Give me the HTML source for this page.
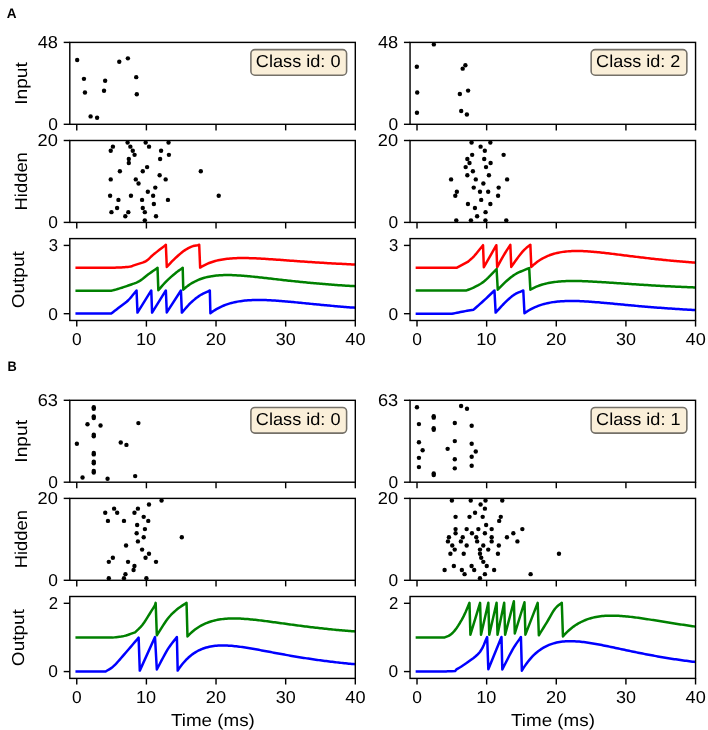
<!DOCTYPE html>
<html><head><meta charset="utf-8"><style>
html,body{margin:0;padding:0;background:#fff;width:708px;height:730px;overflow:hidden;position:relative}
</style></head><body>
<svg width="708" height="730" viewBox="0 0 708 730" style="position:absolute;left:0;top:0;will-change:transform;text-rendering:geometricPrecision;font-family:'Liberation Sans',sans-serif">
<rect x="0" y="0" width="708" height="730" fill="#fff"/>
<line x1="76.76" y1="124.30" x2="76.76" y2="130.40" stroke="#000" stroke-width="1.42"/>
<line x1="146.40" y1="124.30" x2="146.40" y2="130.40" stroke="#000" stroke-width="1.42"/>
<line x1="216.03" y1="124.30" x2="216.03" y2="130.40" stroke="#000" stroke-width="1.42"/>
<line x1="285.67" y1="124.30" x2="285.67" y2="130.40" stroke="#000" stroke-width="1.42"/>
<line x1="355.30" y1="124.30" x2="355.30" y2="130.40" stroke="#000" stroke-width="1.42"/>
<line x1="63.70" y1="124.30" x2="69.80" y2="124.30" stroke="#000" stroke-width="1.42"/>
<line x1="63.70" y1="42.40" x2="69.80" y2="42.40" stroke="#000" stroke-width="1.42"/>
<g><circle cx="77.18" cy="60.06" r="2.2"/><circle cx="83.96" cy="78.84" r="2.2"/><circle cx="84.95" cy="92.54" r="2.2"/><circle cx="90.60" cy="116.41" r="2.2"/><circle cx="97.10" cy="117.82" r="2.2"/><circle cx="105.15" cy="80.68" r="2.2"/><circle cx="104.02" cy="90.71" r="2.2"/><circle cx="119.27" cy="61.75" r="2.2"/><circle cx="127.89" cy="58.36" r="2.2"/><circle cx="136.22" cy="77.15" r="2.2"/><circle cx="136.79" cy="94.24" r="2.2"/></g>
<rect x="250.90" y="49.60" width="95.70" height="25.60" rx="4" ry="4" fill="#faefd9" stroke="#747068" stroke-width="1.55"/>
<text x="255.88" y="67.00" font-size="17.30" font-weight="normal" textLength="84.62" lengthAdjust="spacingAndGlyphs" fill="#000">Class id: 0</text>
<rect x="69.80" y="42.40" width="285.50" height="81.90" fill="none" stroke="#000" stroke-width="1.42" stroke-linejoin="miter"/>
<text x="48.21" y="130.20" font-size="17.30" font-weight="normal" textLength="9.67" lengthAdjust="spacingAndGlyphs" fill="#000">0</text>
<text x="37.72" y="48.30" font-size="17.30" font-weight="normal" textLength="20.27" lengthAdjust="spacingAndGlyphs" fill="#000">48</text>
<line x1="76.76" y1="222.40" x2="76.76" y2="228.50" stroke="#000" stroke-width="1.42"/>
<line x1="146.40" y1="222.40" x2="146.40" y2="228.50" stroke="#000" stroke-width="1.42"/>
<line x1="216.03" y1="222.40" x2="216.03" y2="228.50" stroke="#000" stroke-width="1.42"/>
<line x1="285.67" y1="222.40" x2="285.67" y2="228.50" stroke="#000" stroke-width="1.42"/>
<line x1="355.30" y1="222.40" x2="355.30" y2="228.50" stroke="#000" stroke-width="1.42"/>
<line x1="63.70" y1="222.40" x2="69.80" y2="222.40" stroke="#000" stroke-width="1.42"/>
<line x1="63.70" y1="140.50" x2="69.80" y2="140.50" stroke="#000" stroke-width="1.42"/>
<g><circle cx="127.59" cy="142.55" r="2.2"/><circle cx="145.66" cy="142.55" r="2.2"/><circle cx="168.55" cy="142.55" r="2.2"/><circle cx="112.89" cy="146.64" r="2.2"/><circle cx="130.36" cy="146.64" r="2.2"/><circle cx="149.04" cy="146.64" r="2.2"/><circle cx="110.72" cy="150.74" r="2.2"/><circle cx="132.77" cy="150.74" r="2.2"/><circle cx="161.08" cy="150.74" r="2.2"/><circle cx="134.58" cy="154.83" r="2.2"/><circle cx="168.92" cy="154.83" r="2.2"/><circle cx="128.80" cy="158.93" r="2.2"/><circle cx="160.12" cy="158.93" r="2.2"/><circle cx="128.80" cy="163.02" r="2.2"/><circle cx="147.11" cy="167.12" r="2.2"/><circle cx="119.88" cy="171.21" r="2.2"/><circle cx="142.77" cy="171.21" r="2.2"/><circle cx="159.64" cy="175.31" r="2.2"/><circle cx="110.72" cy="179.40" r="2.2"/><circle cx="135.78" cy="179.40" r="2.2"/><circle cx="165.66" cy="179.40" r="2.2"/><circle cx="138.55" cy="183.50" r="2.2"/><circle cx="155.30" cy="187.59" r="2.2"/><circle cx="147.83" cy="191.69" r="2.2"/><circle cx="110.12" cy="195.78" r="2.2"/><circle cx="130.96" cy="195.78" r="2.2"/><circle cx="153.13" cy="195.78" r="2.2"/><circle cx="118.43" cy="199.88" r="2.2"/><circle cx="142.05" cy="199.88" r="2.2"/><circle cx="167.95" cy="199.88" r="2.2"/><circle cx="153.86" cy="203.97" r="2.2"/><circle cx="117.11" cy="208.07" r="2.2"/><circle cx="142.77" cy="208.07" r="2.2"/><circle cx="111.45" cy="212.16" r="2.2"/><circle cx="128.31" cy="212.16" r="2.2"/><circle cx="144.82" cy="212.16" r="2.2"/><circle cx="125.30" cy="216.26" r="2.2"/><circle cx="156.02" cy="216.26" r="2.2"/><circle cx="144.82" cy="220.35" r="2.2"/><circle cx="200.80" cy="171.21" r="2.2"/><circle cx="218.70" cy="195.78" r="2.2"/></g>
<rect x="69.80" y="140.50" width="285.50" height="81.90" fill="none" stroke="#000" stroke-width="1.42" stroke-linejoin="miter"/>
<text x="48.21" y="228.30" font-size="17.30" font-weight="normal" textLength="9.67" lengthAdjust="spacingAndGlyphs" fill="#000">0</text>
<text x="37.59" y="146.40" font-size="17.30" font-weight="normal" textLength="20.32" lengthAdjust="spacingAndGlyphs" fill="#000">20</text>
<line x1="76.76" y1="320.50" x2="76.76" y2="326.60" stroke="#000" stroke-width="1.42"/>
<line x1="146.40" y1="320.50" x2="146.40" y2="326.60" stroke="#000" stroke-width="1.42"/>
<line x1="216.03" y1="320.50" x2="216.03" y2="326.60" stroke="#000" stroke-width="1.42"/>
<line x1="285.67" y1="320.50" x2="285.67" y2="326.60" stroke="#000" stroke-width="1.42"/>
<line x1="355.30" y1="320.50" x2="355.30" y2="326.60" stroke="#000" stroke-width="1.42"/>
<line x1="63.70" y1="313.68" x2="69.80" y2="313.68" stroke="#000" stroke-width="1.42"/>
<line x1="63.70" y1="245.42" x2="69.80" y2="245.42" stroke="#000" stroke-width="1.42"/>
<clipPath id="cA0"><rect x="69.80" y="238.60" width="285.50" height="81.90"/></clipPath>
<g clip-path="url(#cA0)">
<path d="M76.70,267.80 L111.79,267.83 L113.32,267.75 L114.92,267.67 L116.54,267.60 L118.19,267.53 L119.82,267.46 L121.43,267.39 L122.98,267.31 L124.47,267.22 L125.87,267.12 L127.15,267.01 L128.29,266.89 L130.72,266.46 L132.42,265.95 L133.82,265.41 L135.36,264.88 L136.91,264.36 L138.50,263.88 L140.10,263.39 L141.67,262.90 L143.20,262.37 L144.64,261.78 L145.97,261.11 L147.86,259.81 L149.37,258.38 L150.96,256.75 L153.05,254.86 L154.37,253.79 L155.84,252.62 L157.43,251.38 L159.09,250.09 L160.79,248.76 L162.51,247.43 L164.21,246.12 L165.85,244.84 L166.79,266.89 L168.50,265.08 L170.18,263.29 L171.93,261.47 L173.86,259.58 L175.31,258.21 L176.87,256.76 L178.50,255.29 L180.15,253.85 L181.76,252.51 L183.29,251.32 L185.03,250.11 L186.71,249.04 L188.34,248.11 L189.95,247.31 L191.54,246.61 L193.11,246.07 L194.65,245.69 L196.17,245.41 L197.68,245.15 L199.21,244.84 L200.15,267.59 L201.65,266.68 L203.15,265.83 L204.65,265.04 L206.16,264.32 L207.66,263.65 L209.16,263.03 L210.66,262.47 L212.16,261.95 L213.66,261.48 L215.17,261.05 L216.67,260.66 L218.17,260.30 L219.67,259.98 L221.17,259.69 L222.67,259.43 L224.18,259.20 L225.68,258.99 L227.18,258.81 L228.68,258.65 L230.18,258.52 L231.68,258.40 L233.18,258.30 L234.69,258.22 L236.19,258.15 L237.69,258.10 L239.19,258.07 L240.69,258.05 L242.19,258.04 L243.70,258.04 L245.20,258.05 L246.70,258.07 L248.20,258.10 L249.70,258.13 L251.20,258.18 L252.71,258.23 L254.21,258.29 L255.71,258.36 L257.21,258.43 L258.71,258.50 L260.21,258.58 L261.72,258.66 L263.22,258.75 L264.72,258.84 L266.22,258.93 L267.72,259.03 L269.22,259.13 L270.73,259.23 L272.23,259.33 L273.73,259.44 L275.23,259.54 L276.73,259.65 L278.23,259.76 L279.73,259.87 L281.24,259.98 L282.74,260.08 L284.24,260.19 L285.74,260.30 L287.24,260.42 L288.74,260.53 L290.25,260.64 L291.75,260.75 L293.25,260.85 L294.75,260.96 L296.25,261.07 L297.75,261.18 L299.26,261.29 L300.76,261.39 L302.26,261.50 L303.76,261.60 L305.26,261.71 L306.76,261.81 L308.27,261.91 L309.77,262.01 L311.27,262.11 L312.77,262.21 L314.27,262.31 L315.77,262.41 L317.28,262.50 L318.78,262.60 L320.28,262.69 L321.78,262.78 L323.28,262.87 L324.78,262.96 L326.29,263.05 L327.79,263.14 L329.29,263.22 L330.79,263.31 L332.29,263.39 L333.79,263.48 L335.29,263.56 L336.80,263.64 L338.30,263.72 L339.80,263.79 L341.30,263.87 L342.80,263.95 L344.30,264.02 L345.81,264.09 L347.31,264.17 L348.81,264.24 L350.31,264.31 L351.81,264.38 L353.31,264.44 L354.82,264.51" fill="none" stroke="#ff0000" stroke-width="2.5" stroke-linejoin="round" stroke-linecap="square"/>
<path d="M76.70,290.80 L111.20,290.82 L112.72,290.41 L114.18,290.04 L115.77,289.61 L117.68,289.05 L118.98,288.64 L120.41,288.18 L121.94,287.69 L123.53,287.16 L125.14,286.62 L126.74,286.06 L128.29,285.51 L129.82,284.98 L131.36,284.46 L132.90,283.94 L134.44,283.39 L135.96,282.80 L137.45,282.13 L138.90,281.38 L140.54,280.37 L142.14,279.22 L143.71,278.00 L145.25,276.74 L146.79,275.49 L148.33,274.31 L149.88,273.20 L151.41,272.11 L152.94,271.03 L154.47,269.97 L156.00,268.90 L157.53,267.83 L158.35,290.23 L160.02,288.32 L161.68,286.40 L163.34,284.48 L165.04,282.61 L166.79,280.80 L168.34,279.31 L169.97,277.83 L171.63,276.37 L173.26,274.99 L174.81,273.70 L176.22,272.54 L178.05,271.12 L179.64,269.96 L181.15,268.92 L182.70,267.83 L183.29,289.64 L184.80,288.29 L186.30,287.04 L187.81,285.88 L189.31,284.80 L190.81,283.80 L192.32,282.89 L193.82,282.04 L195.33,281.26 L196.83,280.54 L198.34,279.88 L199.84,279.28 L201.35,278.73 L202.85,278.24 L204.36,277.79 L205.86,277.38 L207.37,277.01 L208.87,276.69 L210.37,276.40 L211.88,276.14 L213.38,275.92 L214.89,275.73 L216.39,275.56 L217.90,275.42 L219.40,275.31 L220.91,275.22 L222.41,275.15 L223.92,275.11 L225.42,275.08 L226.93,275.07 L228.43,275.07 L229.93,275.09 L231.44,275.12 L232.94,275.17 L234.45,275.23 L235.95,275.30 L237.46,275.39 L238.96,275.48 L240.47,275.58 L241.97,275.68 L243.48,275.80 L244.98,275.92 L246.48,276.05 L247.99,276.19 L249.49,276.33 L251.00,276.47 L252.50,276.62 L254.01,276.77 L255.51,276.93 L257.02,277.09 L258.52,277.25 L260.03,277.41 L261.53,277.58 L263.04,277.75 L264.54,277.92 L266.04,278.09 L267.55,278.26 L269.05,278.43 L270.56,278.60 L272.06,278.77 L273.57,278.95 L275.07,279.12 L276.58,279.29 L278.08,279.46 L279.59,279.63 L281.09,279.80 L282.60,279.97 L284.10,280.14 L285.60,280.31 L287.11,280.47 L288.61,280.64 L290.12,280.80 L291.62,280.96 L293.13,281.13 L294.63,281.28 L296.14,281.44 L297.64,281.60 L299.15,281.75 L300.65,281.91 L302.16,282.06 L303.66,282.21 L305.16,282.36 L306.67,282.50 L308.17,282.65 L309.68,282.79 L311.18,282.93 L312.69,283.07 L314.19,283.20 L315.70,283.34 L317.20,283.47 L318.71,283.60 L320.21,283.73 L321.71,283.86 L323.22,283.99 L324.72,284.11 L326.23,284.23 L327.73,284.35 L329.24,284.47 L330.74,284.59 L332.25,284.70 L333.75,284.81 L335.26,284.92 L336.76,285.03 L338.27,285.14 L339.77,285.25 L341.27,285.35 L342.78,285.45 L344.28,285.55 L345.79,285.65 L347.29,285.75 L348.80,285.85 L350.30,285.94 L351.81,286.03 L353.31,286.12 L354.82,286.21" fill="none" stroke="#008000" stroke-width="2.5" stroke-linejoin="round" stroke-linecap="square"/>
<path d="M76.70,313.60 L111.20,313.57 L112.98,312.19 L114.76,310.82 L116.55,309.44 L118.31,308.07 L120.04,306.73 L121.73,305.46 L123.38,304.27 L125.02,303.06 L126.65,301.75 L128.29,300.25 L129.94,298.50 L131.59,296.57 L133.24,294.53 L134.89,292.47 L136.54,290.46 L137.49,312.62 L151.28,290.46 L152.10,312.62 L165.85,290.46 L166.79,312.39 L180.93,290.46 L181.88,312.62 L183.56,310.71 L185.23,308.77 L186.90,306.84 L188.61,304.97 L190.36,303.19 L191.88,301.78 L193.42,300.41 L194.98,299.09 L196.57,297.83 L198.18,296.64 L199.80,295.53 L201.43,294.54 L203.09,293.65 L204.77,292.83 L206.45,292.06 L208.14,291.28 L209.82,290.46 L210.40,313.21 L211.91,312.11 L213.41,311.07 L214.92,310.10 L216.42,309.19 L217.93,308.35 L219.43,307.56 L220.93,306.82 L222.44,306.14 L223.94,305.50 L225.45,304.92 L226.95,304.37 L228.46,303.87 L229.96,303.41 L231.46,302.99 L232.97,302.60 L234.47,302.25 L235.98,301.92 L237.48,301.63 L238.99,301.37 L240.49,301.14 L241.99,300.93 L243.50,300.74 L245.00,300.58 L246.51,300.44 L248.01,300.32 L249.52,300.22 L251.02,300.14 L252.52,300.08 L254.03,300.03 L255.53,300.00 L257.04,299.98 L258.54,299.97 L260.05,299.98 L261.55,300.00 L263.05,300.03 L264.56,300.07 L266.06,300.12 L267.57,300.18 L269.07,300.25 L270.58,300.33 L272.08,300.41 L273.58,300.50 L275.09,300.60 L276.59,300.70 L278.10,300.81 L279.60,300.92 L281.11,301.04 L282.61,301.16 L284.11,301.29 L285.62,301.41 L287.12,301.55 L288.63,301.68 L290.13,301.82 L291.64,301.96 L293.14,302.10 L294.64,302.24 L296.15,302.38 L297.65,302.53 L299.16,302.68 L300.66,302.82 L302.17,302.97 L303.67,303.12 L305.17,303.27 L306.68,303.42 L308.18,303.57 L309.69,303.72 L311.19,303.87 L312.70,304.01 L314.20,304.16 L315.70,304.31 L317.21,304.46 L318.71,304.60 L320.22,304.75 L321.72,304.89 L323.23,305.03 L324.73,305.18 L326.23,305.32 L327.74,305.46 L329.24,305.60 L330.75,305.73 L332.25,305.87 L333.76,306.00 L335.26,306.14 L336.76,306.27 L338.27,306.40 L339.77,306.53 L341.28,306.65 L342.78,306.78 L344.29,306.90 L345.79,307.03 L347.29,307.15 L348.80,307.27 L350.30,307.38 L351.81,307.50 L353.31,307.62 L354.82,307.73" fill="none" stroke="#0000ff" stroke-width="2.5" stroke-linejoin="round" stroke-linecap="square"/>
</g>
<rect x="69.80" y="238.60" width="285.50" height="81.90" fill="none" stroke="#000" stroke-width="1.42" stroke-linejoin="miter"/>
<text x="48.21" y="319.57" font-size="17.30" font-weight="normal" textLength="9.67" lengthAdjust="spacingAndGlyphs" fill="#000">0</text>
<text x="48.64" y="251.32" font-size="17.30" font-weight="normal" textLength="9.29" lengthAdjust="spacingAndGlyphs" fill="#000">3</text>
<text x="71.93" y="345.20" font-size="17.30" font-weight="normal" textLength="9.67" lengthAdjust="spacingAndGlyphs" fill="#000">0</text>
<text x="135.97" y="345.20" font-size="17.30" font-weight="normal" textLength="20.18" lengthAdjust="spacingAndGlyphs" fill="#000">10</text>
<text x="205.77" y="345.20" font-size="17.30" font-weight="normal" textLength="20.32" lengthAdjust="spacingAndGlyphs" fill="#000">20</text>
<text x="275.66" y="345.20" font-size="17.30" font-weight="normal" textLength="20.03" lengthAdjust="spacingAndGlyphs" fill="#000">30</text>
<text x="345.34" y="345.20" font-size="17.30" font-weight="normal" textLength="20.22" lengthAdjust="spacingAndGlyphs" fill="#000">40</text>
<line x1="417.01" y1="124.30" x2="417.01" y2="130.40" stroke="#000" stroke-width="1.42"/>
<line x1="486.65" y1="124.30" x2="486.65" y2="130.40" stroke="#000" stroke-width="1.42"/>
<line x1="556.28" y1="124.30" x2="556.28" y2="130.40" stroke="#000" stroke-width="1.42"/>
<line x1="625.92" y1="124.30" x2="625.92" y2="130.40" stroke="#000" stroke-width="1.42"/>
<line x1="695.55" y1="124.30" x2="695.55" y2="130.40" stroke="#000" stroke-width="1.42"/>
<line x1="403.95" y1="124.30" x2="410.05" y2="124.30" stroke="#000" stroke-width="1.42"/>
<line x1="403.95" y1="42.40" x2="410.05" y2="42.40" stroke="#000" stroke-width="1.42"/>
<g><circle cx="433.84" cy="44.38" r="2.2"/><circle cx="416.83" cy="66.82" r="2.2"/><circle cx="465.40" cy="65.21" r="2.2"/><circle cx="462.69" cy="68.67" r="2.2"/><circle cx="417.20" cy="92.46" r="2.2"/><circle cx="468.11" cy="90.61" r="2.2"/><circle cx="459.85" cy="94.06" r="2.2"/><circle cx="416.96" cy="112.80" r="2.2"/><circle cx="461.21" cy="110.95" r="2.2"/><circle cx="466.88" cy="114.52" r="2.2"/></g>
<rect x="591.15" y="49.60" width="95.70" height="25.60" rx="4" ry="4" fill="#faefd9" stroke="#747068" stroke-width="1.55"/>
<text x="596.13" y="67.00" font-size="17.30" font-weight="normal" textLength="84.26" lengthAdjust="spacingAndGlyphs" fill="#000">Class id: 2</text>
<rect x="410.05" y="42.40" width="285.50" height="81.90" fill="none" stroke="#000" stroke-width="1.42" stroke-linejoin="miter"/>
<text x="388.46" y="130.20" font-size="17.30" font-weight="normal" textLength="9.67" lengthAdjust="spacingAndGlyphs" fill="#000">0</text>
<text x="377.97" y="48.30" font-size="17.30" font-weight="normal" textLength="20.27" lengthAdjust="spacingAndGlyphs" fill="#000">48</text>
<line x1="417.01" y1="222.40" x2="417.01" y2="228.50" stroke="#000" stroke-width="1.42"/>
<line x1="486.65" y1="222.40" x2="486.65" y2="228.50" stroke="#000" stroke-width="1.42"/>
<line x1="556.28" y1="222.40" x2="556.28" y2="228.50" stroke="#000" stroke-width="1.42"/>
<line x1="625.92" y1="222.40" x2="625.92" y2="228.50" stroke="#000" stroke-width="1.42"/>
<line x1="695.55" y1="222.40" x2="695.55" y2="228.50" stroke="#000" stroke-width="1.42"/>
<line x1="403.95" y1="222.40" x2="410.05" y2="222.40" stroke="#000" stroke-width="1.42"/>
<line x1="403.95" y1="140.50" x2="410.05" y2="140.50" stroke="#000" stroke-width="1.42"/>
<g><circle cx="471.57" cy="142.55" r="2.2"/><circle cx="490.36" cy="142.55" r="2.2"/><circle cx="480.60" cy="146.64" r="2.2"/><circle cx="484.82" cy="150.74" r="2.2"/><circle cx="472.17" cy="154.83" r="2.2"/><circle cx="503.61" cy="154.83" r="2.2"/><circle cx="467.35" cy="158.93" r="2.2"/><circle cx="484.22" cy="158.93" r="2.2"/><circle cx="469.52" cy="163.02" r="2.2"/><circle cx="490.60" cy="163.02" r="2.2"/><circle cx="465.66" cy="167.12" r="2.2"/><circle cx="486.02" cy="167.12" r="2.2"/><circle cx="472.89" cy="171.21" r="2.2"/><circle cx="467.35" cy="175.31" r="2.2"/><circle cx="488.92" cy="175.31" r="2.2"/><circle cx="451.08" cy="179.40" r="2.2"/><circle cx="475.78" cy="179.40" r="2.2"/><circle cx="507.11" cy="179.40" r="2.2"/><circle cx="483.37" cy="183.50" r="2.2"/><circle cx="473.73" cy="187.59" r="2.2"/><circle cx="498.67" cy="187.59" r="2.2"/><circle cx="456.87" cy="191.69" r="2.2"/><circle cx="480.00" cy="191.69" r="2.2"/><circle cx="488.19" cy="191.69" r="2.2"/><circle cx="455.30" cy="195.78" r="2.2"/><circle cx="498.07" cy="195.78" r="2.2"/><circle cx="481.20" cy="199.88" r="2.2"/><circle cx="467.95" cy="203.97" r="2.2"/><circle cx="490.36" cy="203.97" r="2.2"/><circle cx="474.94" cy="208.07" r="2.2"/><circle cx="485.54" cy="212.16" r="2.2"/><circle cx="477.11" cy="216.26" r="2.2"/><circle cx="456.27" cy="220.35" r="2.2"/><circle cx="470.96" cy="220.35" r="2.2"/><circle cx="485.42" cy="220.35" r="2.2"/><circle cx="506.27" cy="220.35" r="2.2"/></g>
<rect x="410.05" y="140.50" width="285.50" height="81.90" fill="none" stroke="#000" stroke-width="1.42" stroke-linejoin="miter"/>
<text x="388.46" y="228.30" font-size="17.30" font-weight="normal" textLength="9.67" lengthAdjust="spacingAndGlyphs" fill="#000">0</text>
<text x="377.84" y="146.40" font-size="17.30" font-weight="normal" textLength="20.32" lengthAdjust="spacingAndGlyphs" fill="#000">20</text>
<line x1="417.01" y1="320.50" x2="417.01" y2="326.60" stroke="#000" stroke-width="1.42"/>
<line x1="486.65" y1="320.50" x2="486.65" y2="326.60" stroke="#000" stroke-width="1.42"/>
<line x1="556.28" y1="320.50" x2="556.28" y2="326.60" stroke="#000" stroke-width="1.42"/>
<line x1="625.92" y1="320.50" x2="625.92" y2="326.60" stroke="#000" stroke-width="1.42"/>
<line x1="695.55" y1="320.50" x2="695.55" y2="326.60" stroke="#000" stroke-width="1.42"/>
<line x1="403.95" y1="313.68" x2="410.05" y2="313.68" stroke="#000" stroke-width="1.42"/>
<line x1="403.95" y1="245.42" x2="410.05" y2="245.42" stroke="#000" stroke-width="1.42"/>
<clipPath id="cA1"><rect x="410.05" y="238.60" width="285.50" height="81.90"/></clipPath>
<g clip-path="url(#cA1)">
<path d="M416.90,267.80 L456.50,267.83 L467.70,261.93 L469.27,260.58 L470.80,259.30 L472.40,257.86 L474.19,256.04 L475.80,254.19 L477.55,252.06 L479.38,249.77 L481.22,247.44 L483.03,245.19 L483.85,267.24 L496.35,245.19 L497.17,267.24 L498.67,264.44 L500.15,261.64 L501.66,258.84 L503.25,256.04 L504.95,253.24 L506.73,250.44 L508.53,247.64 L510.32,244.84 L511.27,266.89 L513.13,264.25 L515.01,261.56 L516.85,258.97 L518.58,256.63 L520.65,253.95 L522.56,251.62 L524.47,249.56 L526.44,247.81 L528.40,246.33 L530.36,244.84 L531.31,266.89 L532.81,265.48 L534.32,264.17 L535.83,262.95 L537.33,261.82 L538.84,260.76 L540.34,259.78 L541.85,258.87 L543.36,258.03 L544.86,257.26 L546.37,256.54 L547.87,255.89 L549.38,255.29 L550.89,254.74 L552.39,254.24 L553.90,253.78 L555.40,253.37 L556.91,253.00 L558.42,252.66 L559.92,252.37 L561.43,252.11 L562.93,251.88 L564.44,251.68 L565.94,251.51 L567.45,251.37 L568.96,251.25 L570.46,251.16 L571.97,251.09 L573.47,251.04 L574.98,251.01 L576.49,250.99 L577.99,251.00 L579.50,251.02 L581.00,251.06 L582.51,251.11 L584.02,251.17 L585.52,251.25 L587.03,251.33 L588.53,251.43 L590.04,251.54 L591.55,251.65 L593.05,251.78 L594.56,251.91 L596.06,252.05 L597.57,252.19 L599.08,252.34 L600.58,252.50 L602.09,252.66 L603.59,252.82 L605.10,252.99 L606.61,253.17 L608.11,253.34 L609.62,253.52 L611.12,253.70 L612.63,253.88 L614.14,254.07 L615.64,254.25 L617.15,254.44 L618.65,254.63 L620.16,254.82 L621.66,255.01 L623.17,255.20 L624.68,255.39 L626.18,255.57 L627.69,255.76 L629.19,255.95 L630.70,256.14 L632.21,256.33 L633.71,256.51 L635.22,256.70 L636.72,256.88 L638.23,257.07 L639.74,257.25 L641.24,257.43 L642.75,257.61 L644.25,257.78 L645.76,257.96 L647.27,258.13 L648.77,258.31 L650.28,258.48 L651.78,258.64 L653.29,258.81 L654.80,258.98 L656.30,259.14 L657.81,259.30 L659.31,259.46 L660.82,259.61 L662.33,259.77 L663.83,259.92 L665.34,260.07 L666.84,260.22 L668.35,260.37 L669.86,260.51 L671.36,260.65 L672.87,260.79 L674.37,260.93 L675.88,261.07 L677.39,261.20 L678.89,261.33 L680.40,261.46 L681.90,261.59 L683.41,261.72 L684.91,261.84 L686.42,261.96 L687.93,262.08 L689.43,262.20 L690.94,262.31 L692.44,262.43 L693.95,262.54 L695.46,262.65" fill="none" stroke="#ff0000" stroke-width="2.5" stroke-linejoin="round" stroke-linecap="square"/>
<path d="M416.90,290.50 L466.52,290.46 L468.28,289.74 L470.03,289.05 L471.79,288.35 L473.56,287.58 L475.36,286.69 L476.88,285.90 L478.38,285.10 L479.90,284.24 L481.46,283.28 L483.08,282.14 L484.80,280.80 L486.36,279.42 L487.99,277.86 L489.68,276.16 L491.41,274.37 L493.15,272.55 L494.88,270.74 L496.58,269.01 L497.76,289.64 L499.26,288.14 L500.76,286.62 L502.25,285.11 L503.75,283.61 L505.26,282.17 L506.79,280.80 L508.30,279.50 L509.77,278.25 L511.26,277.06 L512.80,275.91 L514.44,274.80 L516.22,273.72 L517.67,272.95 L519.21,272.21 L520.82,271.50 L522.48,270.80 L524.17,270.12 L525.86,269.45 L527.54,268.76 L529.19,268.06 L530.36,289.64 L531.87,288.81 L533.37,288.05 L534.87,287.34 L536.37,286.69 L537.87,286.08 L539.37,285.53 L540.87,285.02 L542.37,284.55 L543.87,284.13 L545.37,283.74 L546.87,283.38 L548.37,283.06 L549.88,282.77 L551.38,282.50 L552.88,282.27 L554.38,282.06 L555.88,281.87 L557.38,281.70 L558.88,281.56 L560.38,281.43 L561.88,281.32 L563.38,281.23 L564.88,281.16 L566.38,281.10 L567.89,281.05 L569.39,281.02 L570.89,281.00 L572.39,280.99 L573.89,280.98 L575.39,280.99 L576.89,281.01 L578.39,281.04 L579.89,281.07 L581.39,281.11 L582.89,281.16 L584.39,281.21 L585.90,281.27 L587.40,281.33 L588.90,281.40 L590.40,281.47 L591.90,281.55 L593.40,281.63 L594.90,281.71 L596.40,281.80 L597.90,281.88 L599.40,281.97 L600.90,282.07 L602.40,282.16 L603.91,282.26 L605.41,282.35 L606.91,282.45 L608.41,282.55 L609.91,282.65 L611.41,282.75 L612.91,282.85 L614.41,282.96 L615.91,283.06 L617.41,283.16 L618.91,283.26 L620.41,283.37 L621.92,283.47 L623.42,283.57 L624.92,283.67 L626.42,283.77 L627.92,283.87 L629.42,283.97 L630.92,284.07 L632.42,284.17 L633.92,284.27 L635.42,284.37 L636.92,284.47 L638.42,284.56 L639.93,284.66 L641.43,284.75 L642.93,284.85 L644.43,284.94 L645.93,285.03 L647.43,285.12 L648.93,285.21 L650.43,285.30 L651.93,285.39 L653.43,285.47 L654.93,285.56 L656.43,285.64 L657.94,285.73 L659.44,285.81 L660.94,285.89 L662.44,285.97 L663.94,286.05 L665.44,286.13 L666.94,286.21 L668.44,286.28 L669.94,286.36 L671.44,286.43 L672.94,286.51 L674.44,286.58 L675.95,286.65 L677.45,286.72 L678.95,286.79 L680.45,286.86 L681.95,286.92 L683.45,286.99 L684.95,287.05 L686.45,287.12 L687.95,287.18 L689.45,287.24 L690.95,287.31 L692.45,287.37 L693.96,287.42 L695.46,287.48" fill="none" stroke="#008000" stroke-width="2.5" stroke-linejoin="round" stroke-linecap="square"/>
<path d="M416.90,313.80 L451.79,313.80 L453.49,313.46 L455.21,313.11 L456.93,312.76 L458.65,312.41 L460.34,312.08 L461.99,311.75 L463.58,311.45 L465.35,311.12 L467.05,310.81 L468.70,310.52 L470.32,310.24 L471.95,309.96 L473.60,309.68 L475.21,308.24 L476.84,306.79 L478.48,305.34 L480.10,303.89 L481.71,302.46 L483.28,301.04 L484.80,299.66 L486.50,298.08 L488.13,296.53 L489.72,295.01 L491.30,293.50 L492.87,291.98 L494.46,290.46 L495.64,312.62 L497.39,310.72 L499.13,308.80 L500.87,306.88 L502.63,305.00 L504.43,303.19 L505.97,301.71 L507.53,300.22 L509.11,298.76 L510.69,297.37 L512.28,296.08 L513.86,294.94 L515.43,293.98 L517.00,293.17 L518.58,292.47 L520.15,291.82 L521.72,291.16 L523.29,290.46 L524.47,313.21 L525.98,312.16 L527.50,311.18 L529.01,310.26 L530.52,309.40 L532.04,308.60 L533.55,307.86 L535.06,307.17 L536.58,306.53 L538.09,305.93 L539.60,305.39 L541.12,304.88 L542.63,304.42 L544.14,303.99 L545.65,303.60 L547.17,303.24 L548.68,302.92 L550.19,302.63 L551.71,302.36 L553.22,302.13 L554.73,301.92 L556.25,301.73 L557.76,301.57 L559.27,301.43 L560.79,301.31 L562.30,301.21 L563.81,301.13 L565.33,301.07 L566.84,301.02 L568.35,300.99 L569.87,300.97 L571.38,300.96 L572.89,300.97 L574.40,300.99 L575.92,301.02 L577.43,301.06 L578.94,301.11 L580.46,301.17 L581.97,301.24 L583.48,301.31 L585.00,301.39 L586.51,301.48 L588.02,301.58 L589.54,301.68 L591.05,301.78 L592.56,301.89 L594.08,302.01 L595.59,302.13 L597.10,302.25 L598.62,302.37 L600.13,302.50 L601.64,302.63 L603.15,302.77 L604.67,302.90 L606.18,303.04 L607.69,303.18 L609.21,303.32 L610.72,303.46 L612.23,303.60 L613.75,303.74 L615.26,303.89 L616.77,304.03 L618.29,304.17 L619.80,304.32 L621.31,304.46 L622.83,304.61 L624.34,304.75 L625.85,304.89 L627.36,305.03 L628.88,305.17 L630.39,305.32 L631.90,305.46 L633.42,305.59 L634.93,305.73 L636.44,305.87 L637.96,306.00 L639.47,306.14 L640.98,306.27 L642.50,306.40 L644.01,306.53 L645.52,306.66 L647.04,306.79 L648.55,306.92 L650.06,307.04 L651.58,307.16 L653.09,307.29 L654.60,307.41 L656.11,307.52 L657.63,307.64 L659.14,307.76 L660.65,307.87 L662.17,307.98 L663.68,308.09 L665.19,308.20 L666.71,308.31 L668.22,308.41 L669.73,308.52 L671.25,308.62 L672.76,308.72 L674.27,308.82 L675.79,308.92 L677.30,309.01 L678.81,309.11 L680.33,309.20 L681.84,309.29 L683.35,309.38 L684.86,309.47 L686.38,309.56 L687.89,309.64 L689.40,309.72 L690.92,309.81 L692.43,309.89 L693.94,309.97 L695.46,310.04" fill="none" stroke="#0000ff" stroke-width="2.5" stroke-linejoin="round" stroke-linecap="square"/>
</g>
<rect x="410.05" y="238.60" width="285.50" height="81.90" fill="none" stroke="#000" stroke-width="1.42" stroke-linejoin="miter"/>
<text x="388.46" y="319.57" font-size="17.30" font-weight="normal" textLength="9.67" lengthAdjust="spacingAndGlyphs" fill="#000">0</text>
<text x="388.89" y="251.32" font-size="17.30" font-weight="normal" textLength="9.29" lengthAdjust="spacingAndGlyphs" fill="#000">3</text>
<text x="412.18" y="345.20" font-size="17.30" font-weight="normal" textLength="9.67" lengthAdjust="spacingAndGlyphs" fill="#000">0</text>
<text x="476.22" y="345.20" font-size="17.30" font-weight="normal" textLength="20.18" lengthAdjust="spacingAndGlyphs" fill="#000">10</text>
<text x="546.02" y="345.20" font-size="17.30" font-weight="normal" textLength="20.32" lengthAdjust="spacingAndGlyphs" fill="#000">20</text>
<text x="615.91" y="345.20" font-size="17.30" font-weight="normal" textLength="20.03" lengthAdjust="spacingAndGlyphs" fill="#000">30</text>
<text x="685.59" y="345.20" font-size="17.30" font-weight="normal" textLength="20.22" lengthAdjust="spacingAndGlyphs" fill="#000">40</text>
<text transform="translate(27.10,0) rotate(-90)" x="-104.77" y="0" font-size="17.30" textLength="42.62" lengthAdjust="spacingAndGlyphs">Input</text>
<text transform="translate(27.20,0) rotate(-90)" x="-210.42" y="0" font-size="17.30" textLength="58.23" lengthAdjust="spacingAndGlyphs">Hidden</text>
<text transform="translate(24.00,0) rotate(-90)" x="-308.25" y="0" font-size="17.30" textLength="57.03" lengthAdjust="spacingAndGlyphs">Output</text>
<line x1="76.76" y1="482.20" x2="76.76" y2="488.30" stroke="#000" stroke-width="1.42"/>
<line x1="146.40" y1="482.20" x2="146.40" y2="488.30" stroke="#000" stroke-width="1.42"/>
<line x1="216.03" y1="482.20" x2="216.03" y2="488.30" stroke="#000" stroke-width="1.42"/>
<line x1="285.67" y1="482.20" x2="285.67" y2="488.30" stroke="#000" stroke-width="1.42"/>
<line x1="355.30" y1="482.20" x2="355.30" y2="488.30" stroke="#000" stroke-width="1.42"/>
<line x1="63.70" y1="482.20" x2="69.80" y2="482.20" stroke="#000" stroke-width="1.42"/>
<line x1="63.70" y1="400.30" x2="69.80" y2="400.30" stroke="#000" stroke-width="1.42"/>
<g><circle cx="93.76" cy="407.19" r="2.2"/><circle cx="93.76" cy="408.79" r="2.2"/><circle cx="93.76" cy="416.43" r="2.2"/><circle cx="93.76" cy="418.04" r="2.2"/><circle cx="87.48" cy="424.20" r="2.2"/><circle cx="100.54" cy="425.56" r="2.2"/><circle cx="93.76" cy="434.68" r="2.2"/><circle cx="93.76" cy="436.28" r="2.2"/><circle cx="76.88" cy="443.80" r="2.2"/><circle cx="120.76" cy="442.44" r="2.2"/><circle cx="126.43" cy="444.91" r="2.2"/><circle cx="93.76" cy="452.92" r="2.2"/><circle cx="93.76" cy="454.40" r="2.2"/><circle cx="93.76" cy="461.80" r="2.2"/><circle cx="93.76" cy="463.28" r="2.2"/><circle cx="93.76" cy="471.04" r="2.2"/><circle cx="93.76" cy="472.52" r="2.2"/><circle cx="82.55" cy="477.57" r="2.2"/><circle cx="107.57" cy="478.68" r="2.2"/><circle cx="135.18" cy="476.10" r="2.2"/><circle cx="138.39" cy="423.09" r="2.2"/></g>
<rect x="250.90" y="407.50" width="95.70" height="25.60" rx="4" ry="4" fill="#faefd9" stroke="#747068" stroke-width="1.55"/>
<text x="255.88" y="424.90" font-size="17.30" font-weight="normal" textLength="84.62" lengthAdjust="spacingAndGlyphs" fill="#000">Class id: 0</text>
<rect x="69.80" y="400.30" width="285.50" height="81.90" fill="none" stroke="#000" stroke-width="1.42" stroke-linejoin="miter"/>
<text x="48.21" y="488.10" font-size="17.30" font-weight="normal" textLength="9.67" lengthAdjust="spacingAndGlyphs" fill="#000">0</text>
<text x="37.75" y="406.20" font-size="17.30" font-weight="normal" textLength="20.25" lengthAdjust="spacingAndGlyphs" fill="#000">63</text>
<line x1="76.76" y1="580.30" x2="76.76" y2="586.40" stroke="#000" stroke-width="1.42"/>
<line x1="146.40" y1="580.30" x2="146.40" y2="586.40" stroke="#000" stroke-width="1.42"/>
<line x1="216.03" y1="580.30" x2="216.03" y2="586.40" stroke="#000" stroke-width="1.42"/>
<line x1="285.67" y1="580.30" x2="285.67" y2="586.40" stroke="#000" stroke-width="1.42"/>
<line x1="355.30" y1="580.30" x2="355.30" y2="586.40" stroke="#000" stroke-width="1.42"/>
<line x1="63.70" y1="580.30" x2="69.80" y2="580.30" stroke="#000" stroke-width="1.42"/>
<line x1="63.70" y1="498.40" x2="69.80" y2="498.40" stroke="#000" stroke-width="1.42"/>
<g><circle cx="161.56" cy="500.45" r="2.2"/><circle cx="148.99" cy="504.54" r="2.2"/><circle cx="114.11" cy="508.64" r="2.2"/><circle cx="137.90" cy="508.64" r="2.2"/><circle cx="105.23" cy="512.73" r="2.2"/><circle cx="117.19" cy="512.73" r="2.2"/><circle cx="134.45" cy="512.73" r="2.2"/><circle cx="143.69" cy="516.83" r="2.2"/><circle cx="107.94" cy="520.92" r="2.2"/><circle cx="123.97" cy="520.92" r="2.2"/><circle cx="148.25" cy="520.92" r="2.2"/><circle cx="137.16" cy="525.02" r="2.2"/><circle cx="144.92" cy="529.11" r="2.2"/><circle cx="136.66" cy="533.21" r="2.2"/><circle cx="143.69" cy="537.30" r="2.2"/><circle cx="137.90" cy="541.40" r="2.2"/><circle cx="126.06" cy="545.49" r="2.2"/><circle cx="142.09" cy="549.59" r="2.2"/><circle cx="148.99" cy="553.68" r="2.2"/><circle cx="112.87" cy="557.78" r="2.2"/><circle cx="145.54" cy="557.78" r="2.2"/><circle cx="108.81" cy="561.87" r="2.2"/><circle cx="128.04" cy="561.87" r="2.2"/><circle cx="156.02" cy="561.87" r="2.2"/><circle cx="134.45" cy="565.97" r="2.2"/><circle cx="133.58" cy="570.06" r="2.2"/><circle cx="125.45" cy="574.16" r="2.2"/><circle cx="108.81" cy="578.25" r="2.2"/><circle cx="123.97" cy="578.25" r="2.2"/><circle cx="146.40" cy="578.25" r="2.2"/><circle cx="181.80" cy="537.30" r="2.2"/></g>
<rect x="69.80" y="498.40" width="285.50" height="81.90" fill="none" stroke="#000" stroke-width="1.42" stroke-linejoin="miter"/>
<text x="48.21" y="586.20" font-size="17.30" font-weight="normal" textLength="9.67" lengthAdjust="spacingAndGlyphs" fill="#000">0</text>
<text x="37.59" y="504.30" font-size="17.30" font-weight="normal" textLength="20.32" lengthAdjust="spacingAndGlyphs" fill="#000">20</text>
<line x1="76.76" y1="678.40" x2="76.76" y2="684.50" stroke="#000" stroke-width="1.42"/>
<line x1="146.40" y1="678.40" x2="146.40" y2="684.50" stroke="#000" stroke-width="1.42"/>
<line x1="216.03" y1="678.40" x2="216.03" y2="684.50" stroke="#000" stroke-width="1.42"/>
<line x1="285.67" y1="678.40" x2="285.67" y2="684.50" stroke="#000" stroke-width="1.42"/>
<line x1="355.30" y1="678.40" x2="355.30" y2="684.50" stroke="#000" stroke-width="1.42"/>
<line x1="63.70" y1="671.57" x2="69.80" y2="671.57" stroke="#000" stroke-width="1.42"/>
<line x1="63.70" y1="603.32" x2="69.80" y2="603.32" stroke="#000" stroke-width="1.42"/>
<clipPath id="cB0"><rect x="69.80" y="596.50" width="285.50" height="81.90"/></clipPath>
<g clip-path="url(#cB0)">
<path d="M76.70,637.60 L112.68,637.62 L114.38,637.38 L116.08,637.16 L117.80,636.95 L119.50,636.73 L121.19,636.48 L122.85,636.19 L124.47,635.85 L126.05,635.44 L127.59,634.97 L129.10,634.46 L130.60,633.92 L132.08,633.37 L133.57,632.83 L135.08,632.31 L136.88,630.59 L138.69,628.89 L140.47,627.13 L142.15,625.24 L144.17,622.51 L146.05,619.58 L148.05,616.40 L149.71,613.76 L151.46,610.95 L153.24,608.05 L155.00,605.20 L155.66,602.84 L156.84,635.26 L158.40,632.84 L159.98,630.34 L161.56,627.81 L163.13,625.33 L164.69,622.96 L166.21,620.74 L167.68,618.76 L169.34,616.74 L170.93,614.98 L172.49,613.41 L174.02,611.99 L175.56,610.64 L177.11,609.32 L178.68,608.07 L180.26,606.95 L181.83,605.90 L183.40,604.89 L184.97,603.89 L186.54,602.84 L187.49,636.44 L188.99,634.87 L190.50,633.41 L192.01,632.05 L193.52,630.78 L195.02,629.60 L196.53,628.50 L198.04,627.48 L199.55,626.54 L201.05,625.67 L202.56,624.86 L204.07,624.12 L205.58,623.44 L207.08,622.82 L208.59,622.25 L210.10,621.73 L211.61,621.26 L213.11,620.84 L214.62,620.46 L216.13,620.12 L217.64,619.82 L219.14,619.55 L220.65,619.32 L222.16,619.12 L223.67,618.95 L225.17,618.81 L226.68,618.69 L228.19,618.60 L229.70,618.54 L231.20,618.49 L232.71,618.47 L234.22,618.47 L235.73,618.48 L237.23,618.51 L238.74,618.56 L240.25,618.62 L241.76,618.70 L243.26,618.79 L244.77,618.89 L246.28,619.00 L247.79,619.12 L249.29,619.25 L250.80,619.39 L252.31,619.54 L253.82,619.69 L255.32,619.86 L256.83,620.02 L258.34,620.20 L259.85,620.38 L261.35,620.56 L262.86,620.75 L264.37,620.94 L265.88,621.13 L267.38,621.33 L268.89,621.53 L270.40,621.73 L271.91,621.93 L273.41,622.14 L274.92,622.34 L276.43,622.55 L277.93,622.76 L279.44,622.97 L280.95,623.17 L282.46,623.38 L283.96,623.59 L285.47,623.80 L286.98,624.01 L288.49,624.21 L289.99,624.42 L291.50,624.62 L293.01,624.83 L294.52,625.03 L296.02,625.23 L297.53,625.43 L299.04,625.63 L300.55,625.82 L302.05,626.02 L303.56,626.21 L305.07,626.40 L306.58,626.59 L308.08,626.78 L309.59,626.96 L311.10,627.14 L312.61,627.33 L314.11,627.50 L315.62,627.68 L317.13,627.85 L318.64,628.03 L320.14,628.20 L321.65,628.36 L323.16,628.53 L324.67,628.69 L326.17,628.85 L327.68,629.01 L329.19,629.17 L330.70,629.32 L332.20,629.47 L333.71,629.62 L335.22,629.77 L336.73,629.92 L338.23,630.06 L339.74,630.20 L341.25,630.34 L342.76,630.47 L344.26,630.61 L345.77,630.74 L347.28,630.87 L348.79,630.99 L350.29,631.12 L351.80,631.24 L353.31,631.36 L354.82,631.48" fill="none" stroke="#008000" stroke-width="2.5" stroke-linejoin="round" stroke-linecap="square"/>
<path d="M76.70,671.60 L105.61,671.57 L107.22,670.53 L108.80,669.60 L110.39,668.61 L112.06,667.43 L113.86,665.91 L115.22,664.59 L116.62,663.12 L118.06,661.53 L119.55,659.82 L121.11,658.01 L122.75,656.11 L124.47,654.12 L125.89,652.49 L127.38,650.77 L128.92,648.97 L130.52,647.11 L132.14,645.21 L133.77,643.29 L135.41,641.37 L137.03,639.48 L138.62,637.62 L139.80,670.62 L155.00,637.03 L156.84,669.45 L158.40,666.52 L159.98,663.50 L161.57,660.45 L163.15,657.46 L164.70,654.57 L166.22,651.87 L167.68,649.40 L169.31,646.90 L170.87,644.71 L172.38,642.74 L173.87,640.87 L175.36,639.00 L176.88,637.03 L177.70,670.62 L179.20,668.36 L180.70,666.26 L182.21,664.30 L183.71,662.48 L185.21,660.80 L186.71,659.24 L188.21,657.79 L189.71,656.46 L191.21,655.24 L192.71,654.11 L194.21,653.07 L195.71,652.13 L197.21,651.26 L198.72,650.48 L200.22,649.76 L201.72,649.12 L203.22,648.54 L204.72,648.03 L206.22,647.57 L207.72,647.17 L209.22,646.81 L210.72,646.51 L212.22,646.25 L213.73,646.03 L215.23,645.85 L216.73,645.71 L218.23,645.60 L219.73,645.52 L221.23,645.48 L222.73,645.46 L224.23,645.47 L225.73,645.51 L227.23,645.56 L228.74,645.64 L230.24,645.74 L231.74,645.86 L233.24,645.99 L234.74,646.14 L236.24,646.30 L237.74,646.48 L239.24,646.67 L240.74,646.87 L242.24,647.08 L243.74,647.30 L245.25,647.52 L246.75,647.76 L248.25,648.00 L249.75,648.25 L251.25,648.51 L252.75,648.77 L254.25,649.03 L255.75,649.30 L257.25,649.57 L258.75,649.84 L260.26,650.12 L261.76,650.40 L263.26,650.68 L264.76,650.96 L266.26,651.24 L267.76,651.52 L269.26,651.81 L270.76,652.09 L272.26,652.37 L273.76,652.65 L275.26,652.93 L276.77,653.21 L278.27,653.49 L279.77,653.77 L281.27,654.04 L282.77,654.32 L284.27,654.59 L285.77,654.86 L287.27,655.13 L288.77,655.39 L290.27,655.65 L291.78,655.91 L293.28,656.17 L294.78,656.43 L296.28,656.68 L297.78,656.93 L299.28,657.18 L300.78,657.42 L302.28,657.66 L303.78,657.90 L305.28,658.14 L306.79,658.37 L308.29,658.60 L309.79,658.82 L311.29,659.05 L312.79,659.27 L314.29,659.48 L315.79,659.70 L317.29,659.91 L318.79,660.12 L320.29,660.32 L321.79,660.52 L323.30,660.72 L324.80,660.92 L326.30,661.11 L327.80,661.30 L329.30,661.49 L330.80,661.67 L332.30,661.85 L333.80,662.03 L335.30,662.21 L336.80,662.38 L338.31,662.55 L339.81,662.71 L341.31,662.88 L342.81,663.04 L344.31,663.20 L345.81,663.35 L347.31,663.51 L348.81,663.66 L350.31,663.81 L351.81,663.95 L353.31,664.09 L354.82,664.24" fill="none" stroke="#0000ff" stroke-width="2.5" stroke-linejoin="round" stroke-linecap="square"/>
</g>
<rect x="69.80" y="596.50" width="285.50" height="81.90" fill="none" stroke="#000" stroke-width="1.42" stroke-linejoin="miter"/>
<text x="48.21" y="677.47" font-size="17.30" font-weight="normal" textLength="9.67" lengthAdjust="spacingAndGlyphs" fill="#000">0</text>
<text x="48.72" y="609.22" font-size="17.30" font-weight="normal" textLength="9.32" lengthAdjust="spacingAndGlyphs" fill="#000">2</text>
<text x="71.93" y="703.10" font-size="17.30" font-weight="normal" textLength="9.67" lengthAdjust="spacingAndGlyphs" fill="#000">0</text>
<text x="135.97" y="703.10" font-size="17.30" font-weight="normal" textLength="20.18" lengthAdjust="spacingAndGlyphs" fill="#000">10</text>
<text x="205.77" y="703.10" font-size="17.30" font-weight="normal" textLength="20.32" lengthAdjust="spacingAndGlyphs" fill="#000">20</text>
<text x="275.66" y="703.10" font-size="17.30" font-weight="normal" textLength="20.03" lengthAdjust="spacingAndGlyphs" fill="#000">30</text>
<text x="345.34" y="703.10" font-size="17.30" font-weight="normal" textLength="20.22" lengthAdjust="spacingAndGlyphs" fill="#000">40</text>
<line x1="417.01" y1="482.20" x2="417.01" y2="488.30" stroke="#000" stroke-width="1.42"/>
<line x1="486.65" y1="482.20" x2="486.65" y2="488.30" stroke="#000" stroke-width="1.42"/>
<line x1="556.28" y1="482.20" x2="556.28" y2="488.30" stroke="#000" stroke-width="1.42"/>
<line x1="625.92" y1="482.20" x2="625.92" y2="488.30" stroke="#000" stroke-width="1.42"/>
<line x1="695.55" y1="482.20" x2="695.55" y2="488.30" stroke="#000" stroke-width="1.42"/>
<line x1="403.95" y1="482.20" x2="410.05" y2="482.20" stroke="#000" stroke-width="1.42"/>
<line x1="403.95" y1="400.30" x2="410.05" y2="400.30" stroke="#000" stroke-width="1.42"/>
<g><circle cx="416.96" cy="407.19" r="2.2"/><circle cx="461.09" cy="405.96" r="2.2"/><circle cx="467.00" cy="408.79" r="2.2"/><circle cx="433.72" cy="416.19" r="2.2"/><circle cx="433.72" cy="417.67" r="2.2"/><circle cx="418.93" cy="424.08" r="2.2"/><circle cx="454.80" cy="422.97" r="2.2"/><circle cx="471.69" cy="425.68" r="2.2"/><circle cx="433.72" cy="428.14" r="2.2"/><circle cx="433.72" cy="429.75" r="2.2"/><circle cx="418.93" cy="442.32" r="2.2"/><circle cx="454.80" cy="441.09" r="2.2"/><circle cx="471.69" cy="443.80" r="2.2"/><circle cx="422.63" cy="450.21" r="2.2"/><circle cx="447.65" cy="448.85" r="2.2"/><circle cx="475.76" cy="451.44" r="2.2"/><circle cx="418.93" cy="457.85" r="2.2"/><circle cx="454.80" cy="459.21" r="2.2"/><circle cx="471.69" cy="456.74" r="2.2"/><circle cx="418.93" cy="467.10" r="2.2"/><circle cx="454.80" cy="468.33" r="2.2"/><circle cx="471.69" cy="465.74" r="2.2"/><circle cx="433.72" cy="473.51" r="2.2"/><circle cx="433.72" cy="474.99" r="2.2"/></g>
<rect x="591.15" y="407.50" width="95.70" height="25.60" rx="4" ry="4" fill="#faefd9" stroke="#747068" stroke-width="1.55"/>
<text x="596.13" y="424.90" font-size="17.30" font-weight="normal" textLength="84.36" lengthAdjust="spacingAndGlyphs" fill="#000">Class id: 1</text>
<rect x="410.05" y="400.30" width="285.50" height="81.90" fill="none" stroke="#000" stroke-width="1.42" stroke-linejoin="miter"/>
<text x="388.46" y="488.10" font-size="17.30" font-weight="normal" textLength="9.67" lengthAdjust="spacingAndGlyphs" fill="#000">0</text>
<text x="378.00" y="406.20" font-size="17.30" font-weight="normal" textLength="20.25" lengthAdjust="spacingAndGlyphs" fill="#000">63</text>
<line x1="417.01" y1="580.30" x2="417.01" y2="586.40" stroke="#000" stroke-width="1.42"/>
<line x1="486.65" y1="580.30" x2="486.65" y2="586.40" stroke="#000" stroke-width="1.42"/>
<line x1="556.28" y1="580.30" x2="556.28" y2="586.40" stroke="#000" stroke-width="1.42"/>
<line x1="625.92" y1="580.30" x2="625.92" y2="586.40" stroke="#000" stroke-width="1.42"/>
<line x1="695.55" y1="580.30" x2="695.55" y2="586.40" stroke="#000" stroke-width="1.42"/>
<line x1="403.95" y1="580.30" x2="410.05" y2="580.30" stroke="#000" stroke-width="1.42"/>
<line x1="403.95" y1="498.40" x2="410.05" y2="498.40" stroke="#000" stroke-width="1.42"/>
<g><circle cx="451.88" cy="500.45" r="2.2"/><circle cx="470.73" cy="500.45" r="2.2"/><circle cx="485.51" cy="500.45" r="2.2"/><circle cx="480.59" cy="504.54" r="2.2"/><circle cx="484.90" cy="508.64" r="2.2"/><circle cx="475.04" cy="512.73" r="2.2"/><circle cx="455.57" cy="516.83" r="2.2"/><circle cx="469.50" cy="516.83" r="2.2"/><circle cx="482.68" cy="516.83" r="2.2"/><circle cx="486.13" cy="525.02" r="2.2"/><circle cx="455.57" cy="529.11" r="2.2"/><circle cx="466.66" cy="529.11" r="2.2"/><circle cx="478.37" cy="529.11" r="2.2"/><circle cx="491.67" cy="529.11" r="2.2"/><circle cx="455.57" cy="533.21" r="2.2"/><circle cx="471.96" cy="533.21" r="2.2"/><circle cx="484.90" cy="533.21" r="2.2"/><circle cx="448.92" cy="537.30" r="2.2"/><circle cx="462.72" cy="537.30" r="2.2"/><circle cx="476.27" cy="537.30" r="2.2"/><circle cx="491.67" cy="537.30" r="2.2"/><circle cx="447.94" cy="541.40" r="2.2"/><circle cx="460.87" cy="541.40" r="2.2"/><circle cx="477.14" cy="541.40" r="2.2"/><circle cx="491.67" cy="541.40" r="2.2"/><circle cx="452.25" cy="545.49" r="2.2"/><circle cx="466.66" cy="545.49" r="2.2"/><circle cx="483.30" cy="545.49" r="2.2"/><circle cx="454.71" cy="549.59" r="2.2"/><circle cx="479.97" cy="549.59" r="2.2"/><circle cx="488.22" cy="549.59" r="2.2"/><circle cx="450.40" cy="553.68" r="2.2"/><circle cx="463.71" cy="553.68" r="2.2"/><circle cx="479.97" cy="553.68" r="2.2"/><circle cx="481.20" cy="557.78" r="2.2"/><circle cx="483.30" cy="561.87" r="2.2"/><circle cx="453.85" cy="565.97" r="2.2"/><circle cx="471.59" cy="565.97" r="2.2"/><circle cx="486.75" cy="565.97" r="2.2"/><circle cx="444.61" cy="570.06" r="2.2"/><circle cx="461.86" cy="570.06" r="2.2"/><circle cx="474.18" cy="570.06" r="2.2"/><circle cx="494.14" cy="570.06" r="2.2"/><circle cx="464.57" cy="574.16" r="2.2"/><circle cx="484.90" cy="574.16" r="2.2"/><circle cx="479.97" cy="578.25" r="2.2"/><circle cx="502.26" cy="500.45" r="2.2"/><circle cx="500.78" cy="516.83" r="2.2"/><circle cx="499.18" cy="520.92" r="2.2"/><circle cx="522.35" cy="529.11" r="2.2"/><circle cx="513.35" cy="533.21" r="2.2"/><circle cx="506.94" cy="537.30" r="2.2"/><circle cx="517.42" cy="541.40" r="2.2"/><circle cx="498.81" cy="545.49" r="2.2"/><circle cx="497.94" cy="553.68" r="2.2"/><circle cx="558.96" cy="553.68" r="2.2"/><circle cx="530.61" cy="574.16" r="2.2"/></g>
<rect x="410.05" y="498.40" width="285.50" height="81.90" fill="none" stroke="#000" stroke-width="1.42" stroke-linejoin="miter"/>
<text x="388.46" y="586.20" font-size="17.30" font-weight="normal" textLength="9.67" lengthAdjust="spacingAndGlyphs" fill="#000">0</text>
<text x="377.84" y="504.30" font-size="17.30" font-weight="normal" textLength="20.32" lengthAdjust="spacingAndGlyphs" fill="#000">20</text>
<line x1="417.01" y1="678.40" x2="417.01" y2="684.50" stroke="#000" stroke-width="1.42"/>
<line x1="486.65" y1="678.40" x2="486.65" y2="684.50" stroke="#000" stroke-width="1.42"/>
<line x1="556.28" y1="678.40" x2="556.28" y2="684.50" stroke="#000" stroke-width="1.42"/>
<line x1="625.92" y1="678.40" x2="625.92" y2="684.50" stroke="#000" stroke-width="1.42"/>
<line x1="695.55" y1="678.40" x2="695.55" y2="684.50" stroke="#000" stroke-width="1.42"/>
<line x1="403.95" y1="671.57" x2="410.05" y2="671.57" stroke="#000" stroke-width="1.42"/>
<line x1="403.95" y1="603.32" x2="410.05" y2="603.32" stroke="#000" stroke-width="1.42"/>
<clipPath id="cB1"><rect x="410.05" y="596.50" width="285.50" height="81.90"/></clipPath>
<g clip-path="url(#cB1)">
<path d="M416.90,637.40 L444.72,637.38 L446.68,636.62 L448.64,635.85 L450.61,634.67 L452.53,632.98 L454.45,630.88 L456.50,628.19 L458.22,625.65 L460.04,622.73 L461.86,619.59 L463.58,616.40 L465.63,612.01 L467.55,607.43 L469.47,602.84 L470.41,634.67 L480.08,602.84 L481.02,634.67 L488.33,602.84 L489.28,634.67 L496.58,602.84 L497.53,634.67 L504.19,602.84 L505.14,634.67 L513.86,601.31 L514.80,633.49 L524.47,602.25 L525.41,634.67 L537.67,602.84 L538.85,635.26 L540.45,632.67 L542.05,630.10 L543.65,627.52 L545.26,624.92 L546.87,622.29 L548.51,619.50 L550.18,616.54 L551.84,613.63 L553.46,610.97 L555.00,608.74 L556.79,606.72 L558.48,605.31 L560.12,604.13 L561.78,602.84 L562.96,636.42 L564.47,634.73 L565.97,633.15 L567.48,631.67 L568.98,630.28 L570.49,628.97 L571.99,627.76 L573.50,626.62 L575.01,625.55 L576.51,624.57 L578.02,623.65 L579.52,622.79 L581.03,622.00 L582.53,621.27 L584.04,620.60 L585.54,619.98 L587.05,619.42 L588.56,618.90 L590.06,618.43 L591.57,618.01 L593.07,617.63 L594.58,617.28 L596.08,616.98 L597.59,616.71 L599.10,616.48 L600.60,616.28 L602.11,616.10 L603.61,615.96 L605.12,615.85 L606.62,615.76 L608.13,615.70 L609.64,615.66 L611.14,615.64 L612.65,615.64 L614.15,615.66 L615.66,615.70 L617.16,615.76 L618.67,615.83 L620.17,615.92 L621.68,616.02 L623.19,616.13 L624.69,616.26 L626.20,616.40 L627.70,616.55 L629.21,616.71 L630.71,616.87 L632.22,617.05 L633.73,617.23 L635.23,617.43 L636.74,617.62 L638.24,617.83 L639.75,618.04 L641.25,618.25 L642.76,618.47 L644.26,618.69 L645.77,618.92 L647.28,619.15 L648.78,619.38 L650.29,619.62 L651.79,619.86 L653.30,620.09 L654.80,620.33 L656.31,620.58 L657.82,620.82 L659.32,621.06 L660.83,621.30 L662.33,621.55 L663.84,621.79 L665.34,622.03 L666.85,622.28 L668.36,622.52 L669.86,622.76 L671.37,623.00 L672.87,623.24 L674.38,623.47 L675.88,623.71 L677.39,623.94 L678.89,624.17 L680.40,624.40 L681.91,624.63 L683.41,624.86 L684.92,625.08 L686.42,625.31 L687.93,625.53 L689.43,625.74 L690.94,625.96 L692.45,626.17 L693.95,626.38 L695.46,626.59" fill="none" stroke="#008000" stroke-width="2.5" stroke-linejoin="round" stroke-linecap="square"/>
<path d="M416.90,671.60 L418.44,671.58 L420.04,671.57 L421.67,671.56 L423.34,671.55 L425.04,671.54 L426.76,671.53 L428.49,671.53 L430.23,671.52 L431.96,671.51 L433.68,671.51 L435.39,671.50 L437.07,671.49 L438.71,671.48 L440.32,671.46 L441.89,671.45 L443.39,671.43 L444.84,671.41 L446.21,671.39 L447.51,671.36 L448.73,671.33 L449.85,671.30 L450.87,671.26 L451.79,671.21 L455.33,670.94 L455.53,670.52 L456.50,669.45 L457.82,668.68 L459.36,667.75 L461.06,666.70 L462.87,665.54 L464.72,664.32 L466.55,663.05 L468.29,661.78 L470.02,660.52 L471.80,659.23 L473.59,657.90 L475.36,656.51 L477.06,655.04 L478.64,653.46 L480.08,651.76 L482.18,648.41 L483.91,644.69 L485.50,640.82 L487.15,637.03 L488.33,669.21 L501.48,637.03 L502.31,669.45 L504.06,666.02 L505.85,662.48 L507.63,658.95 L509.38,655.52 L511.08,652.30 L512.68,649.40 L514.47,646.44 L516.14,643.90 L517.74,641.61 L519.32,639.38 L520.93,637.03 L521.88,670.63 L523.39,668.17 L524.90,665.87 L526.41,663.72 L527.91,661.71 L529.42,659.84 L530.93,658.09 L532.44,656.46 L533.95,654.94 L535.46,653.54 L536.97,652.24 L538.48,651.03 L539.99,649.92 L541.50,648.89 L543.01,647.95 L544.52,647.09 L546.03,646.31 L547.54,645.59 L549.05,644.94 L550.56,644.36 L552.06,643.83 L553.57,643.37 L555.08,642.95 L556.59,642.59 L558.10,642.28 L559.61,642.01 L561.12,641.78 L562.63,641.59 L564.14,641.45 L565.65,641.33 L567.16,641.25 L568.67,641.21 L570.18,641.19 L571.69,641.20 L573.20,641.23 L574.71,641.29 L576.22,641.38 L577.72,641.48 L579.23,641.61 L580.74,641.75 L582.25,641.91 L583.76,642.09 L585.27,642.28 L586.78,642.48 L588.29,642.70 L589.80,642.93 L591.31,643.17 L592.82,643.42 L594.33,643.68 L595.84,643.95 L597.35,644.23 L598.86,644.51 L600.37,644.80 L601.87,645.10 L603.38,645.40 L604.89,645.70 L606.40,646.01 L607.91,646.32 L609.42,646.63 L610.93,646.95 L612.44,647.27 L613.95,647.59 L615.46,647.91 L616.97,648.23 L618.48,648.55 L619.99,648.88 L621.50,649.20 L623.01,649.52 L624.52,649.84 L626.02,650.16 L627.53,650.48 L629.04,650.80 L630.55,651.12 L632.06,651.44 L633.57,651.75 L635.08,652.06 L636.59,652.37 L638.10,652.68 L639.61,652.98 L641.12,653.28 L642.63,653.58 L644.14,653.88 L645.65,654.17 L647.16,654.46 L648.67,654.75 L650.18,655.03 L651.68,655.31 L653.19,655.59 L654.70,655.87 L656.21,656.14 L657.72,656.41 L659.23,656.67 L660.74,656.93 L662.25,657.19 L663.76,657.45 L665.27,657.70 L666.78,657.95 L668.29,658.19 L669.80,658.43 L671.31,658.67 L672.82,658.91 L674.33,659.14 L675.83,659.36 L677.34,659.59 L678.85,659.81 L680.36,660.03 L681.87,660.24 L683.38,660.45 L684.89,660.66 L686.40,660.86 L687.91,661.06 L689.42,661.26 L690.93,661.46 L692.44,661.65 L693.95,661.83 L695.46,662.02" fill="none" stroke="#0000ff" stroke-width="2.5" stroke-linejoin="round" stroke-linecap="square"/>
</g>
<rect x="410.05" y="596.50" width="285.50" height="81.90" fill="none" stroke="#000" stroke-width="1.42" stroke-linejoin="miter"/>
<text x="388.46" y="677.47" font-size="17.30" font-weight="normal" textLength="9.67" lengthAdjust="spacingAndGlyphs" fill="#000">0</text>
<text x="388.97" y="609.22" font-size="17.30" font-weight="normal" textLength="9.32" lengthAdjust="spacingAndGlyphs" fill="#000">2</text>
<text x="412.18" y="703.10" font-size="17.30" font-weight="normal" textLength="9.67" lengthAdjust="spacingAndGlyphs" fill="#000">0</text>
<text x="476.22" y="703.10" font-size="17.30" font-weight="normal" textLength="20.18" lengthAdjust="spacingAndGlyphs" fill="#000">10</text>
<text x="546.02" y="703.10" font-size="17.30" font-weight="normal" textLength="20.32" lengthAdjust="spacingAndGlyphs" fill="#000">20</text>
<text x="615.91" y="703.10" font-size="17.30" font-weight="normal" textLength="20.03" lengthAdjust="spacingAndGlyphs" fill="#000">30</text>
<text x="685.59" y="703.10" font-size="17.30" font-weight="normal" textLength="20.22" lengthAdjust="spacingAndGlyphs" fill="#000">40</text>
<text transform="translate(27.10,0) rotate(-90)" x="-462.67" y="0" font-size="17.30" textLength="42.62" lengthAdjust="spacingAndGlyphs">Input</text>
<text transform="translate(27.20,0) rotate(-90)" x="-568.32" y="0" font-size="17.30" textLength="58.23" lengthAdjust="spacingAndGlyphs">Hidden</text>
<text transform="translate(24.00,0) rotate(-90)" x="-666.15" y="0" font-size="17.30" textLength="57.03" lengthAdjust="spacingAndGlyphs">Output</text>
<text x="6.76" y="17.60" font-size="13.90" font-weight="bold" textLength="9.80" lengthAdjust="spacingAndGlyphs" fill="#000">A</text>
<text x="7.44" y="371.10" font-size="13.90" font-weight="bold" textLength="9.24" lengthAdjust="spacingAndGlyphs" fill="#000">B</text>
<text x="170.93" y="725.50" font-size="17.30" font-weight="normal" textLength="83.88" lengthAdjust="spacingAndGlyphs" fill="#000">Time (ms)</text>
<text x="511.03" y="725.50" font-size="17.30" font-weight="normal" textLength="83.88" lengthAdjust="spacingAndGlyphs" fill="#000">Time (ms)</text>
</svg>
</body></html>
